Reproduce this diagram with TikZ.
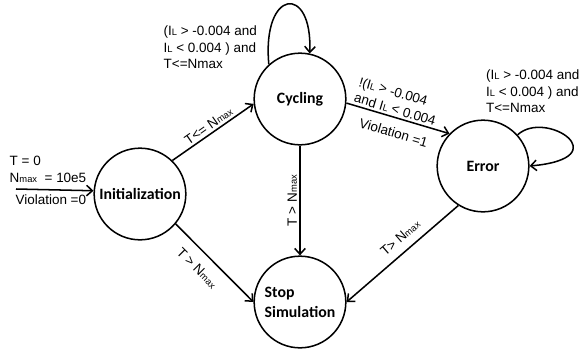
\documentclass[tikz,border=0pt]{standalone}
\usepackage{fontspec}
\setmainfont{Liberation Sans}
\newfontfamily\statefont{Carlito}
\usetikzlibrary{arrows.meta,positioning}

\newcommand{\Nmax}{N{\footnotesize max}}
\newcommand{\IL}{I{\footnotesize L}}

\begin{document}
\begin{tikzpicture}[x=0.03cm,y=-0.03cm,line width=1.3pt,
    >={Straight Barb[length=5pt,width=9pt]},
    state/.style={draw,circle,minimum size=2.75cm,inner sep=0pt,align=left,
        font=\statefont\bfseries\fontsize{13.5}{17}\selectfont},
    lbl/.style={font=\fontsize{11.5}{14}\selectfont,align=left,inner sep=2pt}]

\useasboundingbox (0,0) rectangle (581,358);

% states
\node[state] (init) at (140,194) {Initialization};
\node[state] (cyc) at (300,99) {Cycling};
\node[state] (err) at (483,166) {Error};
\node[state] (stop) at (300,302) {Stop\\Simulation};

\coordinate (start) at (16,189);

% initial arrow
\draw[->] (start) -- (init.176)
    node[lbl,pos=0,anchor=south west,xshift=-8pt,yshift=3pt] (initset) {T = 0\\\Nmax\ \ = 10e5}
    node[lbl,pos=0,anchor=north west,xshift=-3pt,yshift=-2pt] (initviol) {Violation =0};

% transitions
\draw[->] (init.46) -- (cyc.186) node[lbl,midway,above,sloped] (lcyc) {T<= \Nmax};
\draw[->] (init.-40) -- (stop.west)
    node[lbl,pos=0.42,below,sloped,inner sep=9pt] (lstopa) {T > \Nmax};
\draw[->] (cyc.south) -- (stop.north)
    node[lbl,midway,rotate=90,anchor=south] (lstopb) {T > \Nmax};
\draw[->] (cyc.-5) -- (err.136)
    node[lbl,pos=0.45,above,sloped] (lviol) {!(\IL\ > -0.004\\and \IL\ < 0.004}
    node[lbl,pos=0.5,below,sloped,inner sep=8pt] (lviolb) {Violation =1};
\draw[->] (err.-122) -- (stop.east)
    node[lbl,pos=0.44,above,sloped,inner sep=7pt] (lstopc) {T> \Nmax};

% self loops
\draw[->] (cyc.132) .. controls +(-7,-76) and +(3,-70) .. (cyc.78);
\node[lbl,anchor=north east] (lcycloop) at (260,23) {(\IL\ > -0.004 and\\\IL\ < 0.004 ) and\\T<=Nmax};

\draw[->] (err.42) .. controls +(28,-26) and +(90,-8) .. (err.0);
\node[lbl,anchor=north west] (lerrloop) at (483,67) {(\IL\ > -0.004 and\\\IL\ < 0.004 ) and\\T<=Nmax};

\end{tikzpicture}
\end{document}
